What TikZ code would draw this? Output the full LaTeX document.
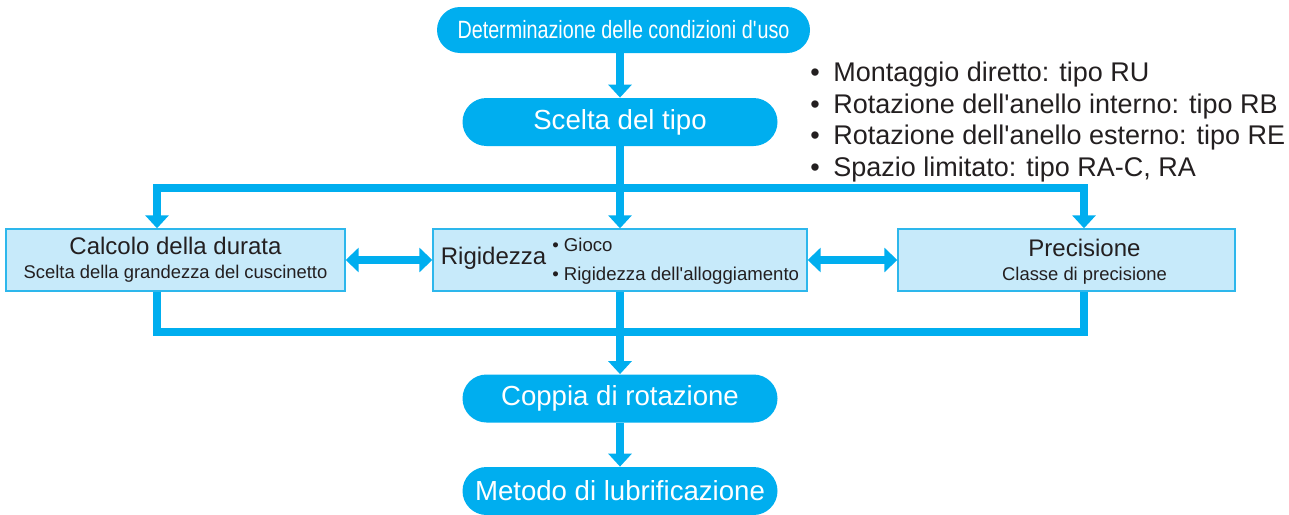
\documentclass[tikz,border=0pt]{standalone}
\usepackage{fontspec}
\setmainfont{Liberation Sans}
\newfontfamily\condensedfont[FakeStretch=0.79]{Liberation Sans}
\usetikzlibrary{arrows.meta}
\definecolor{flowcyan}{HTML}{00AEEF}
\definecolor{stagefill}{HTML}{C7EAFA}
\definecolor{stageedge}{HTML}{2DB7EC}
\definecolor{inkdark}{HTML}{231F20}

\begin{document}
\begin{tikzpicture}[x=0.5pt, y=-0.5pt,
  pill/.style = {rectangle, rounded corners=12pt, fill=flowcyan, text=white, minimum width=157.5pt, minimum height=24pt, inner sep=0pt, font=\fontsize{13.8pt}{16pt}\selectfont},
  stage/.style = {rectangle, draw=stageedge, line width=0.7pt, fill=stagefill, text=inkdark, minimum height=31pt, inner sep=0pt, align=center},
  flow/.style = {draw=flowcyan, line width=4pt, -{Triangle[width=11.5pt, length=6.5pt]}},
  bus/.style = {draw=flowcyan, line width=4pt},
  link/.style = {draw=flowcyan, line width=4pt, {Triangle[width=12pt, length=6.5pt]}-{Triangle[width=12pt, length=6.5pt]}}]
  \useasboundingbox (0, 0) rectangle (1289, 514);

  % Steps.
  \node at (623.5, 30) [pill, rounded corners=11.5pt, minimum width=186.5pt, minimum height=23pt, font=\condensedfont\fontsize{12.5pt}{15pt}\selectfont, name=conditions] {Determinazione delle condizioni d\textquotesingle uso};
  \node at (620, 122) [pill, name=typechoice] {Scelta del tipo};
  \node at (620, 398.5) [pill, name=torque] {Coppia di rotazione};
  \node at (620, 491) [pill, name=lubrication] {Metodo di lubrificazione};

  % Types.
  \node at (810, 122) [anchor=west, inner sep=0pt, align=left, text=inkdark, font=\fontsize{13.5pt}{15.8pt}\selectfont, name=typelist]
    {•\enspace Montaggio diretto: tipo RU\\
     •\enspace Rotazione dell\textquotesingle anello interno: tipo RB\\
     •\enspace Rotazione dell\textquotesingle anello esterno: tipo RE\\
     •\enspace Spazio limitato: tipo RA-C, RA};

  % Checks.
  \node at (175.5, 260) [stage, minimum width=169.5pt, name=life]
    {{\fontsize{12pt}{13pt}\selectfont Calcolo della durata}\\
     {\fontsize{9.2pt}{13pt}\selectfont Scelta della grandezza del cuscinetto}};
  \node at (620, 260) [stage, minimum width=187pt, name=rigidity]
    {{\fontsize{12pt}{14pt}\selectfont Rigidezza}\hspace{3pt}%
     {\fontsize{9.3pt}{14.5pt}\selectfont\begin{tabular}{@{}l@{}}• Gioco\\ • Rigidezza dell\textquotesingle alloggiamento\end{tabular}}};
  \node at (1066.5, 260) [stage, minimum width=168.5pt, name=precision,
    label={[align=center, text=inkdark, xshift=9pt, yshift=-1pt]center:{\fontsize{12pt}{11.5pt}\selectfont Precisione}\\
     {\fontsize{9.2pt}{11.5pt}\selectfont Classe di precisione}}] {};

  \coordinate (upperleft) at (157, 188);
  \coordinate (upperright) at (1084, 188);
  \coordinate (lowerleft) at (157, 332);
  \coordinate (lowerright) at (1084, 332);

  % Main line.
  \draw [flow] (typechoice.north |- conditions.south) to (typechoice.north);
  \draw [flow] (typechoice.south) to (rigidity.north);
  \draw [flow] (rigidity.south) to (torque.north);
  \draw [flow] (torque.south) to (lubrication.north);

  % Branches.
  \draw [flow] (rigidity.north |- upperleft) -- (upperleft) -- (upperleft |- life.north);
  \draw [flow] (rigidity.north |- upperright) -- (upperright) -- (upperright |- precision.north);
  \draw [bus] (upperleft |- life.south) -- (lowerleft) -- (lowerright) -- (upperright |- precision.south);

  % Links.
  \draw [link] (life.east) to (rigidity.west);
  \draw [link] (rigidity.east) to (precision.west);
\end{tikzpicture}
\end{document}
